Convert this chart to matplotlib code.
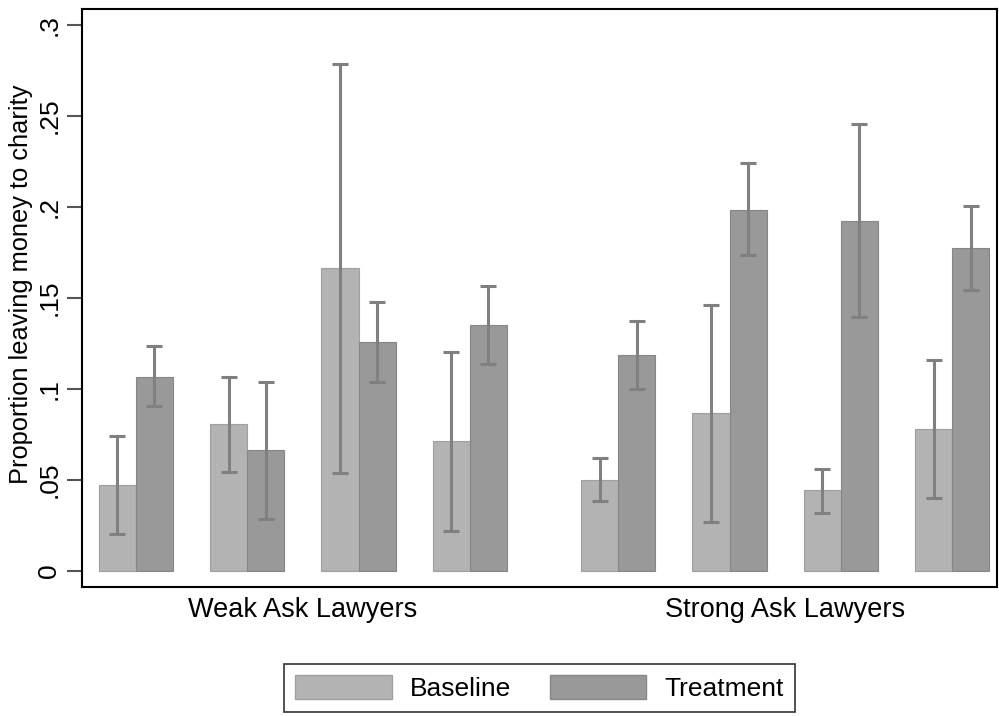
import numpy as np
import matplotlib
matplotlib.use('Agg')
import matplotlib.pyplot as plt
from matplotlib.patches import Patch

plt.rcParams['font.family'] = ['Liberation Sans', 'DejaVu Sans']

# datos
grupos = ['Weak Ask Lawyers', 'Strong Ask Lawyers']
baseline = [0.0475, 0.081, 0.1665, 0.0715, 0.0503, 0.0866, 0.0443, 0.0783]
baseline_lo = [0.0205, 0.0546, 0.0541, 0.0218, 0.0384, 0.0268, 0.0317, 0.0404]
baseline_hi = [0.0743, 0.1066, 0.2785, 0.1205, 0.0623, 0.1462, 0.0563, 0.1158]
treatment = [0.1069, 0.0664, 0.1256, 0.1351, 0.1188, 0.1983, 0.1924, 0.1774]
treatment_lo = [0.0907, 0.0288, 0.1039, 0.1137, 0.1000, 0.1736, 0.1398, 0.1547]
treatment_hi = [0.1237, 0.1040, 0.1481, 0.1568, 0.1374, 0.2240, 0.2457, 0.2004]
yticks = [0, 0.05, 0.1, 0.15, 0.2, 0.25, 0.3]
ytick_labels = ['0', '.05', '.1', '.15', '.2', '.25', '.3']

c_base = '#b3b3b3'
c_trat = '#999999'
c_err = '#808080'
fs = 19

# posiciones de cada par, con hueco extra entre grupos
pos = np.array([0, 1, 2, 3, 4 + 1/3, 5 + 1/3, 6 + 1/3, 7 + 1/3])
ancho = 1/3

fig = plt.figure(figsize=(9.99, 7.16), dpi=100)
ax = fig.add_axes([0.0821, 0.180, 0.916, 0.8074])

ax.bar(pos - ancho/2, baseline, ancho, color=c_base, edgecolor='#a0a0a0', linewidth=0.8)
ax.bar(pos + ancho/2, treatment, ancho, color=c_trat, edgecolor='#868686', linewidth=0.8)

def barras_error(x, lo, hi):
    lo = np.array(lo); hi = np.array(hi)
    mid = (lo + hi) / 2
    ax.errorbar(x, mid, yerr=[mid - lo, hi - mid], fmt='none', ecolor=c_err,
                elinewidth=2.2, capsize=5.5, capthick=2.2)

barras_error(pos - ancho/2, baseline_lo, baseline_hi)
barras_error(pos + ancho/2, treatment_lo, treatment_hi)

ax.set_xlim(-0.484, 7.737)
ax.set_ylim(-0.0088, 0.3088)

ax.set_yticks(yticks)
ax.set_yticklabels(ytick_labels, rotation=90, va='center', fontsize=fs)
ax.tick_params(axis='y', length=11, width=1.5, color='#555555', pad=4)

centros = [pos[:4].mean(), pos[4:].mean()]
ax.set_xticks(centros)
ax.set_xticklabels(grupos, fontsize=19.5)
ax.tick_params(axis='x', length=0, pad=7)

ax.set_ylabel('Proportion leaving money to charity', fontsize=18.3)
ax.yaxis.set_label_coords(-0.054, 0.524)

for s in ax.spines.values():
    s.set_linewidth(1.5)
    s.set_color('black')

handles = [Patch(facecolor=c_base, edgecolor='#a0a0a0'),
           Patch(facecolor=c_trat, edgecolor='#868686')]
leg = fig.legend(handles, ['Baseline', 'Treatment'], loc='center',
                 bbox_to_anchor=(0.54, 0.039), ncol=2, fontsize=fs,
                 frameon=True, fancybox=False, edgecolor='black',
                 handlelength=3.67, handleheight=1.0, columnspacing=1.45,
                 handletextpad=0.68, borderpad=0.42)
leg.get_frame().set_linewidth(1.2)

fig.savefig('out.png', dpi=100)
